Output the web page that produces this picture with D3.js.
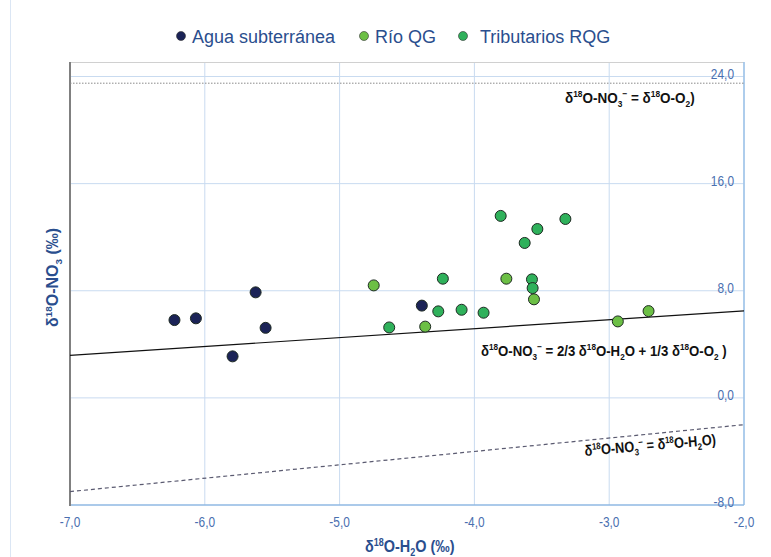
<!DOCTYPE html>
<html>
<head>
<meta charset="utf-8">
<script src="https://cdn.jsdelivr.net/npm/d3@7"></script>
<style>
  body { margin: 0; background: #fff; }
  svg { display: block; }
  .narrow { font-family: "Liberation Sans", Arial, sans-serif; }
</style>
</head>
<body>
<svg id="chart" width="771" height="557"></svg>
<script>
// series: [δ18O-H2O, δ18O-NO3]
const aguaSubterranea = [
    [-6.225, 5.81], [-6.066, 5.94], [-5.623, 7.88], [-5.549, 5.23], [-5.794, 3.10], [-4.390, 6.89],
];
const rioQG = [
    [-4.747, 8.40], [-4.365, 5.32], [-3.763, 8.90], [-3.558, 7.36], [-2.936, 5.71], [-2.708, 6.48],
];
const tributariosRQG = [
    [-4.632, 5.26], [-4.234, 8.90], [-4.268, 6.46], [-4.095, 6.58], [-3.932, 6.36], [-3.805, 13.59],
    [-3.627, 11.57], [-3.533, 12.61], [-3.325, 13.36], [-3.573, 8.85], [-3.568, 8.20],
];

// reference lines (endpoints)
const lineO2 = [[-7, 23.5], [-2, 23.5]];
const lineMix = [[-7, 3.17], [-2, 6.5]];
const lineH2O = [[-7, -7], [-2, -2]];

const xTicks = [-7, -6, -5, -4, -3, -2];
const yTicks = [-8, 0, 8, 16, 24];

const seriesNames = ['Agua subterránea', 'Río QG', 'Tributarios RQG'];
const seriesColors = ['#1b2357', '#6cbf45', '#2fb15b'];

const LEFT = 70, RIGHT = 744, TOP = 62, BOTTOM = 505;
const axisBlue = '#4a6fb0';
const titleBlue = '#2a4e8e';

const svg = d3.select('#chart');
const xCoord = d3.scaleLinear().domain([-7, -2]).range([LEFT, RIGHT]);
const yCoord = d3.scaleLinear().domain([-8, 24]).range([BOTTOM, 76.5]);

const fmt = v => d3.format('.1f')(v).replace('.', ',').replace('−', '-');

// faint outer border
svg.append('line')
    .attr('x1', 10.5).attr('x2', 10.5).attr('y1', 0).attr('y2', 557)
    .attr('stroke', '#dbe6f4').attr('stroke-width', 1);

// gridlines
svg.append('g').selectAll('line')
    .data(xTicks.slice(1))
    .join('line')
    .attr('x1', d => xCoord(d)).attr('x2', d => xCoord(d))
    .attr('y1', TOP).attr('y2', BOTTOM)
    .attr('stroke', '#c9dbf0').attr('stroke-width', 1);

svg.append('g').selectAll('line')
    .data(yTicks.slice(1))
    .join('line')
    .attr('x1', LEFT).attr('x2', RIGHT)
    .attr('y1', d => yCoord(d)).attr('y2', d => yCoord(d))
    .attr('stroke', '#c9dbf0').attr('stroke-width', 1);

// top frame
svg.append('line')
    .attr('x1', LEFT).attr('x2', RIGHT).attr('y1', TOP + 0.5).attr('y2', TOP + 0.5)
    .attr('stroke', '#d0d0d0');

// right border
svg.append('line')
    .attr('x1', RIGHT).attr('x2', RIGHT).attr('y1', TOP).attr('y2', BOTTOM)
    .attr('stroke', '#9cc2e8').attr('stroke-width', 1.5);

// bottom axis line
svg.append('line')
    .attr('x1', LEFT).attr('x2', RIGHT).attr('y1', BOTTOM).attr('y2', BOTTOM)
    .attr('stroke', '#8fb9e3').attr('stroke-width', 1.5);

// left axis line
svg.append('line')
    .attr('x1', LEFT).attr('x2', LEFT).attr('y1', TOP).attr('y2', BOTTOM + 1)
    .attr('stroke', '#808080').attr('stroke-width', 2);

// x tick labels (condensed)
svg.append('g').attr('class', 'narrow').selectAll('text')
    .data(xTicks)
    .join('text')
    .attr('transform', d => `translate(${xCoord(d)},527) scale(0.85,1)`)
    .attr('text-anchor', 'middle')
    .attr('font-size', 14).attr('fill', axisBlue)
    .text(fmt);

// y tick labels (right side, inside)
svg.append('g').attr('class', 'narrow').selectAll('text')
    .data(yTicks)
    .join('text')
    .attr('transform', d => `translate(734,${yCoord(d) + 2}) scale(0.85,1)`)
    .attr('text-anchor', 'end')
    .attr('font-size', 14).attr('fill', axisBlue)
    .text(fmt);

// reference lines
const line = d3.line().x(d => xCoord(d[0])).y(d => yCoord(d[1]));

svg.append('path').attr('d', line(lineO2))
    .attr('fill', 'none').attr('stroke', '#8a8a8a').attr('stroke-width', 1)
    .attr('stroke-dasharray', '1.5,1.5');

svg.append('path').attr('d', line(lineMix))
    .attr('fill', 'none').attr('stroke', '#111').attr('stroke-width', 1.2);

svg.append('path').attr('d', line(lineH2O))
    .attr('fill', 'none').attr('stroke', '#5a5a70').attr('stroke-width', 1.2)
    .attr('stroke-dasharray', '4,3');

// rich text helper: parts = [text, 'sup' | 'sub' | undefined]
const richText = (g, parts, size) => {
    const t = g.append('text');
    let shift = 0;
    parts.forEach(([s, kind]) => {
        const target = kind === 'sup' ? -size * 0.38 : kind === 'sub' ? size * 0.25 : 0;
        t.append('tspan')
            .attr('dy', target - shift)
            .attr('font-size', kind ? size * 0.62 : size)
            .text(s);
        shift = target;
    });
    return t;
};

// annotations
const annoO2 = svg.append('g').attr('class', 'narrow')
    .attr('transform', 'translate(565,103) scale(0.9,1)')
    .attr('font-weight', 'bold').attr('fill', '#111');
richText(annoO2, [['δ'], ['18', 'sup'], ['O-NO'], ['3', 'sub'], ['−', 'sup'], [' = δ'], ['18', 'sup'], ['O-O'], ['2', 'sub'], [')']], 15);

const annoMix = svg.append('g').attr('class', 'narrow')
    .attr('transform', 'translate(481,356) scale(0.88,1)')
    .attr('font-weight', 'bold').attr('fill', '#111');
richText(annoMix, [['δ'], ['18', 'sup'], ['O-NO'], ['3', 'sub'], ['−', 'sup'], [' = 2/3 δ'], ['18', 'sup'], ['O-H'], ['2', 'sub'],
    ['O  + 1/3 δ'], ['18', 'sup'], ['O-O'], ['2', 'sub'], [' )']], 15);

const annoH2O = svg.append('g').attr('class', 'narrow')
    .attr('transform', 'translate(585,456) rotate(-5) scale(0.85,1)')
    .attr('font-weight', 'bold').attr('fill', '#111');
richText(annoH2O, [['δ'], ['18', 'sup'], ['O-NO'], ['3', 'sub'], ['−', 'sup'], [' = δ'], ['18', 'sup'], ['O-H'], ['2', 'sub'], ['O)']], 15);

// points
const allSeries = [aguaSubterranea, rioQG, tributariosRQG];
allSeries.forEach((data, i) => {
    svg.append('g').selectAll('circle')
        .data(data)
        .join('circle')
        .attr('cx', d => xCoord(d[0]))
        .attr('cy', d => yCoord(d[1]))
        .attr('r', 5.5)
        .attr('fill', seriesColors[i])
        .attr('stroke', '#1e2a22').attr('stroke-width', 1);
});

// legend
const legend = svg.append('g').attr('font-family', '"Liberation Sans", Arial, sans-serif');
const legendX = [181, 364, 463];
seriesNames.forEach((name, i) => {
    legend.append('circle')
        .attr('cx', legendX[i]).attr('cy', 36).attr('r', 4.5)
        .attr('fill', seriesColors[i]).attr('stroke', '#333').attr('stroke-width', 0.6);
    legend.append('text')
        .attr('x', legendX[i] + (i === 2 ? 17 : 11)).attr('y', 43)
        .attr('font-size', 18).attr('fill', titleBlue)
        .text(name);
});

// axis titles
const xTitle = svg.append('g').attr('class', 'narrow')
    .attr('transform', 'translate(365,552) scale(0.85,1)')
    .attr('font-weight', 'bold').attr('fill', titleBlue);
richText(xTitle, [['δ'], ['18', 'sup'], ['O-H'], ['2', 'sub'], ['O (‰)']], 17);

const yTitle = svg.append('g').attr('class', 'narrow')
    .attr('transform', 'translate(58,327) rotate(-90)')
    .attr('font-weight', 'bold').attr('fill', titleBlue);
richText(yTitle, [['δ'], ['18', 'sup'], ['O-NO'], ['3', 'sub'], [' (‰)']], 16);
</script>
</body>
</html>
